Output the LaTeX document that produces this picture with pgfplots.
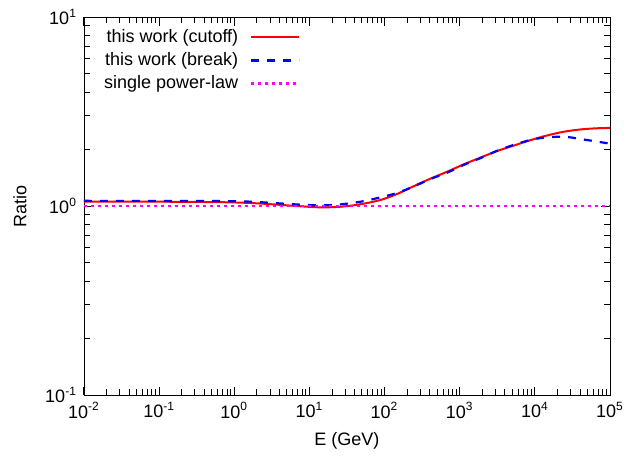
\documentclass[border=0pt]{standalone}
\usepackage{fontspec}
\setmainfont{Liberation Sans}
\usepackage{pgfplots}
\pgfplotsset{compat=1.18}
\definecolor{gpred}{RGB}{255,0,0}
\definecolor{gpblue}{RGB}{0,0,255}
\definecolor{gpmag}{RGB}{255,0,255}

\begin{document}
\begin{tikzpicture}[font=\fontsize{9}{11}\selectfont]
\path (-42pt,-27.5pt) rectangle (278.5pt,197.5pt);
\begin{axis}[
    at={(0,0)}, anchor=south west,
    scale only axis,
    width=263pt, height=189pt,
    xmode=log, ymode=log,
    xmin=1e-2, xmax=1e5,
    ymin=0.1, ymax=10,
    xtick={1e-2,1e-1,1,1e1,1e2,1e3,1e4,1e5},
    ytick={0.1,1,10},
    minor xtick={0.02,0.03,0.04,0.05,0.06,0.07,0.08,0.09,
                 0.2,0.3,0.4,0.5,0.6,0.7,0.8,0.9,
                 2,3,4,5,6,7,8,9,
                 20,30,40,50,60,70,80,90,
                 200,300,400,500,600,700,800,900,
                 2000,3000,4000,5000,6000,7000,8000,9000,
                 20000,30000,40000,50000,60000,70000,80000,90000},
    minor ytick={0.2,0.3,0.4,0.5,0.6,0.7,0.8,0.9,2,3,4,5,6,7,8,9},
    log number format basis/.code 2 args={10\textsuperscript{\pgfmathprintnumber[assume math mode=true]{#2}}},
    tick style={black, line width=0.5pt},
    xlabel={E (GeV)},
    ylabel={Ratio},
    ylabel style={yshift=2.5pt},
    legend plot pos=right,
    legend cell align=right,
    legend image code/.code={\draw[#1] (0pt,0pt) -- (24pt,0pt);},
    legend style={draw=none, fill=none, inner sep=0pt,
        at={(0.03,0.979)}, anchor=north west,
        row sep=-0.5pt, column sep=4pt,
        font=\fontsize{9}{11}\selectfont},
]
% this work (cutoff)
\addplot[gpred, line width=1pt, smooth] coordinates {
(0.01,1.055) (0.1,1.054) (0.6457,1.048) (1.585,1.038) (2.985,1.023)
(6.761,1.000) (13.80,0.984) (25.70,0.991) (46.77,1.020) (87.10,1.075)
(144.5,1.155) (241.5,1.270) (398.1,1.390) (671.4,1.515) (1122,1.660)
(1862,1.800) (3090,1.950) (5164,2.085) (8710,2.230) (14390,2.360)
(23990,2.470) (39810,2.540) (63100,2.575) (100000,2.590)
};
\addlegendentry{this work (cutoff)}
% this work (break)
\addplot[gpblue, line width=1.1pt, dash pattern=on 4pt off 4pt, smooth] coordinates {
(0.01,1.065) (0.1,1.064) (0.6457,1.062) (1.585,1.055) (2.985,1.040)
(8.128,1.015) (15.14,1.008) (25.70,1.020) (46.77,1.052) (79.43,1.100)
(144.5,1.170) (239.9,1.265) (398.1,1.384) (676.1,1.500) (1122,1.648)
(1862,1.788) (3090,1.954) (5129,2.100) (8710,2.235) (14450,2.310)
(26300,2.320) (48980,2.235) (91200,2.150) (100000,2.130)
};
\addlegendentry{this work (break)}
% single power-law
\addplot[gpmag, line width=1.2pt, dash pattern=on 1.5pt off 2pt] coordinates {
(0.01,1) (100000,1)
};
\addlegendentry{single power-law}
\end{axis}
\end{tikzpicture}
\end{document}
